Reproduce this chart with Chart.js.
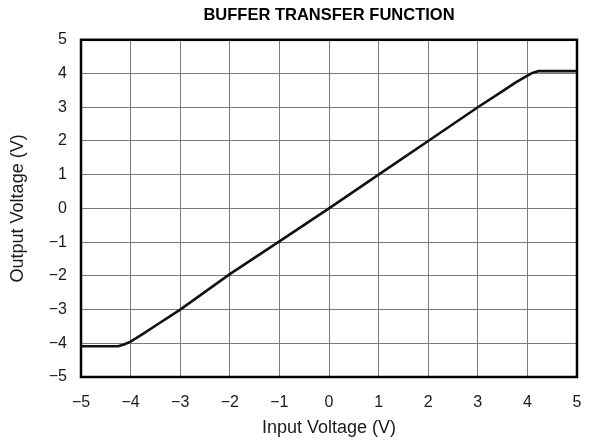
<!DOCTYPE html>
<html>
<head>
<meta charset="utf-8">
<script src="https://cdn.jsdelivr.net/npm/chart.js@4"></script>
<style>
  html, body { margin: 0; padding: 0; background: #fff; }
  #wrap { width: 589px; height: 445px; }
</style>
</head>
<body>
<div id="wrap"><canvas id="transferChart"></canvas></div>
<script>
// Input voltage (V) vs output voltage (V)
const inputVolts  = [-5, -4.25, -4.12, -4.0, -3.75, -3.5, -3.0, -2.0, -1.0, 0, 1.0, 2.0, 3.0, 3.5, 3.75, 4.0, 4.1, 4.22, 5];
const outputVolts = [-4.09, -4.09, -4.03, -3.95, -3.72, -3.48, -3.0, -1.95, -0.98, 0, 1.0, 2.0, 3.0, 3.48, 3.72, 3.94, 4.02, 4.07, 4.07];
const axisTicks = [-5, -4, -3, -2, -1, 0, 1, 2, 3, 4, 5];

const points = inputVolts.map((x, i) => ({ x: x, y: outputVolts[i] }));
const fmt = v => String(v).replace("-", "\u2212");

// thick frame around the plot area
const framePlugin = {
  id: "frame",
  afterDraw(chart) {
    const { ctx, chartArea: a } = chart;
    ctx.save();
    ctx.strokeStyle = "#000";
    ctx.lineWidth = 2.5;
    ctx.strokeRect(a.left, a.top, a.right - a.left, a.bottom - a.top);
    ctx.restore();
  }
};

Chart.defaults.font.family = "'Liberation Sans', Arial, sans-serif";
Chart.defaults.color = "#1a1a1a";

new Chart(document.getElementById("transferChart"), {
  type: "scatter",
  data: {
    datasets: [{
      data: points,
      showLine: true,
      borderColor: "#111",
      borderWidth: 2.6,
      pointRadius: 0,
      tension: 0
    }]
  },
  options: {
    responsive: true,
    maintainAspectRatio: false,
    animation: false,
    layout: { padding: { left: 0, right: 12, top: 0, bottom: 0 } },
    plugins: {
      legend: { display: false },
      tooltip: { enabled: false },
      title: {
        display: true,
        fullSize: false,
        text: "BUFFER TRANSFER FUNCTION",
        font: { size: 16.5, weight: "bold" },
        color: "#000",
        padding: { top: 6, bottom: 14 }
      }
    },
    scales: {
      x: {
        type: "linear",
        min: -5, max: 5,
        afterBuildTicks: s => { s.ticks = axisTicks.map(v => ({ value: v })); },
        // fixed axis band; tick padding should not widen the right margin
        afterFit: s => { s.height = 68; s.paddingRight = 0; s.paddingLeft = 0; },
        ticks: { callback: v => fmt(v), font: { size: 16 }, padding: 16, maxRotation: 0 },
        grid: { color: "#7a7a7a", lineWidth: 1, drawTicks: false },
        border: { display: false },
        title: { display: true, text: "Input Voltage (V)", font: { size: 18 }, padding: { bottom: 6 } }
      },
      y: {
        type: "linear",
        min: -5, max: 5,
        afterBuildTicks: s => { s.ticks = axisTicks.map(v => ({ value: v })); },
        afterFit: s => { s.width = 81; s.paddingTop = 0; s.paddingBottom = 0; },
        ticks: { callback: v => fmt(v), font: { size: 16 }, padding: 14 },
        grid: { color: "#7a7a7a", lineWidth: 1, drawTicks: false },
        border: { display: false },
        title: { display: true, text: "Output Voltage (V)", font: { size: 18 }, padding: { top: 7 } }
      }
    }
  },
  plugins: [framePlugin]
});
</script>
</body>
</html>
